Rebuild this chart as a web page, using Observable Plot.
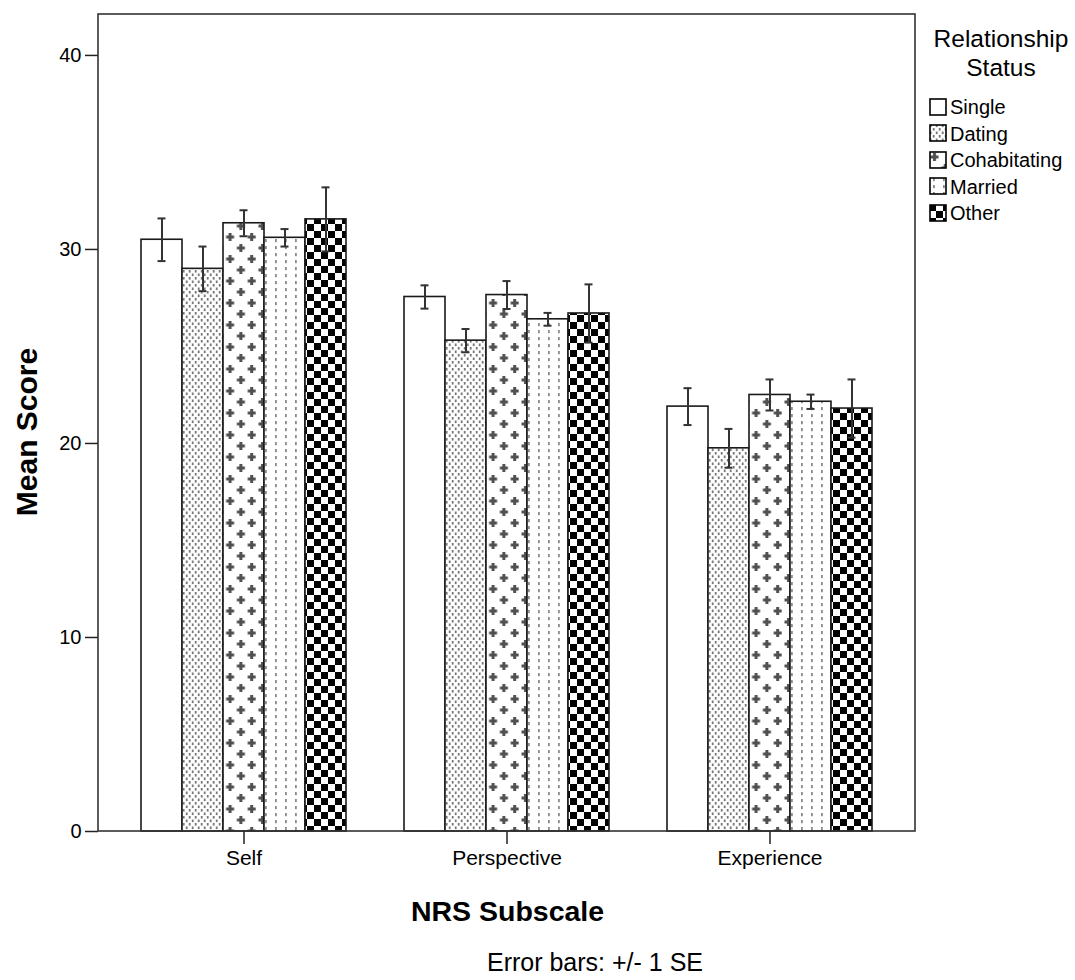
<!DOCTYPE html>
<html><head><meta charset="utf-8">
<script src="https://cdn.jsdelivr.net/npm/d3@7"></script>
<script src="https://cdn.jsdelivr.net/npm/@observablehq/plot@0.6"></script>
<style>
body{margin:0;background:#fff;font-family:"Liberation Sans",Arial,sans-serif;}
#wrap{position:relative;width:1075px;height:980px;overflow:hidden;}
.abs{position:absolute;white-space:nowrap;color:#000;}
#chart{position:absolute;left:0;top:0;}
</style></head><body>
<svg width="0" height="0" style="position:absolute">
<defs>
<pattern id="pDating" patternUnits="userSpaceOnUse" width="6" height="7">
 <rect width="6" height="7" fill="#fff"/>
 <rect x="0.8" y="0.5" width="1.8" height="2.6" fill="#777"/>
 <rect x="3.8" y="4" width="1.8" height="2.6" fill="#777"/>
</pattern>
<pattern id="pCohab" patternUnits="userSpaceOnUse" width="21.6" height="22">
 <rect width="21.6" height="22" fill="#fff"/>
 <rect x="1.5" y="4.5" width="8" height="3" fill="#505050"/>
 <rect x="4" y="2" width="3" height="8" fill="#505050"/>
 <rect x="12.3" y="15.5" width="8" height="3" fill="#505050"/>
 <rect x="14.8" y="13" width="3" height="8" fill="#505050"/>
</pattern>
<pattern id="pMarried" patternUnits="userSpaceOnUse" width="10" height="7">
 <rect width="10" height="7" fill="#fff"/>
 <rect x="4" y="1" width="1.8" height="3.2" fill="#8c8c8c"/>
</pattern>
<pattern id="pOther" patternUnits="userSpaceOnUse" width="14" height="14">
 <rect width="14" height="14" fill="#fff"/>
 <rect x="0" y="0" width="7" height="7" fill="#000"/>
 <rect x="7" y="7" width="7" height="7" fill="#000"/>
</pattern>
</defs>
</svg>
<div id="wrap">
 <div id="chart"></div>
 <div class="abs" style="left:926px;top:24px;width:150px;text-align:center;font-size:24.5px;line-height:29px">Relationship<br>Status</div>
 <div id="legend"></div>
 <div class="abs" style="left:0;top:895px;width:1015px;text-align:center;font-size:28.5px;font-weight:bold">NRS Subscale</div>
 <div class="abs" style="left:0;top:948px;width:1190px;text-align:center;font-size:25px">Error bars: +/- 1 SE</div>
 <div class="abs" style="left:27px;top:432px;font-size:30px;font-weight:bold;transform:translate(-50%,-50%) rotate(-90deg);">Mean Score</div>
</div>
<script>
const subscales = ["Self", "Perspective", "Experience"];
const statuses = ["Single", "Dating", "Cohabitating", "Married", "Other"];
const statusFills = ["#fff", "url(#pDating)", "url(#pCohab)", "url(#pMarried)", "url(#pOther)"];
const selfMeans = [30.5, 29.0, 31.35, 30.6, 31.55];
const selfSE = [1.1, 1.15, 0.67, 0.45, 1.65];
const perspectiveMeans = [27.55, 25.3, 27.65, 26.4, 26.7];
const perspectiveSE = [0.6, 0.6, 0.72, 0.33, 1.5];
const experienceMeans = [21.9, 19.75, 22.5, 22.15, 21.8];
const experienceSE = [0.95, 1.0, 0.8, 0.37, 1.5];
const yTicks = [0, 10, 20, 30, 40];

const meansBy = [selfMeans, perspectiveMeans, experienceMeans];
const seBy = [selfSE, perspectiveSE, experienceSE];
const rows = [];
subscales.forEach((s, i) => statuses.forEach((st, j) => rows.push({subscale: s, status: st, mean: meansBy[i][j], se: seBy[i][j]})));

function make(axisDx) {
  return Plot.plot({
    width: 1075, height: 940,
    marginLeft: 98, marginRight: 160, marginTop: 14, marginBottom: 109,
    style: {fontFamily: "'Liberation Sans', Arial, sans-serif", fontSize: "20px", color: "#000", background: "transparent"},
    fx: {domain: subscales, paddingInner: 0.2045, paddingOuter: 0.15, label: null},
    x: {domain: statuses, padding: 0, axis: null},
    y: {domain: [0, 42.11], label: null},
    color: {domain: statuses, range: statusFills},
    marks: [
      Plot.barY(rows, {fx: "subscale", x: "status", y: "mean", fill: "status", stroke: "#1a1a1a", strokeWidth: 1.6}),
      Plot.ruleX(rows, {fx: "subscale", x: "status", y1: d => d.mean - d.se, y2: d => d.mean + d.se, stroke: "#333", strokeWidth: 2}),
      Plot.tickY(rows, {fx: "subscale", x: "status", y: d => d.mean - d.se, insetLeft: 16.5, insetRight: 16.5, stroke: "#333", strokeWidth: 2}),
      Plot.tickY(rows, {fx: "subscale", x: "status", y: d => d.mean + d.se, insetLeft: 16.5, insetRight: 16.5, stroke: "#333", strokeWidth: 2}),
      Plot.axisY({ticks: yTicks, tickSize: 13, tickPadding: 4, fontSize: 20, label: null, stroke: "#222", strokeWidth: 1.5, dx: axisDx}),
      Plot.axisFx({anchor: "bottom", tickSize: 13, tickPadding: 6, fontSize: 21, label: null, stroke: "#222", strokeWidth: 1.5})
    ]
  });
}
// first pass: find where the first facet band starts, so the y axis sits on the frame edge
const probe = make(0);
const fxScale = probe.scale("fx");
const axisDx = Math.min(...fxScale.range) - fxScale.apply(subscales[0]);
const chart = make(axisDx);
document.getElementById("chart").appendChild(chart);
// outer frame around the whole plot area, from the scales' ranges
const fxR = chart.scale("fx").range, yR = chart.scale("y").range;
d3.select(chart).append("rect")
  .attr("x", Math.min(...fxR)).attr("y", Math.min(...yR))
  .attr("width", Math.abs(fxR[1] - fxR[0])).attr("height", Math.abs(yR[1] - yR[0]))
  .attr("fill", "none").attr("stroke", "#333").attr("stroke-width", 1.6);

// legend
const leg = d3.select("#legend");
statuses.forEach((st, i) => {
  const row = leg.append("div").attr("class", "abs")
    .style("left", "929px").style("top", (95 + i * 26.6) + "px")
    .style("font-size", "20px").style("line-height", "24px")
    .style("display", "flex").style("align-items", "center");
  const sw = row.append("svg").attr("width", 19).attr("height", 19).style("margin-right", "2px");
  sw.append("rect").attr("x", 1).attr("y", 1).attr("width", 16).attr("height", 16)
    .attr("fill", statusFills[i]).attr("stroke", "#000").attr("stroke-width", 1.6);
  row.append("span").text(st);
});
</script>
</body></html>
